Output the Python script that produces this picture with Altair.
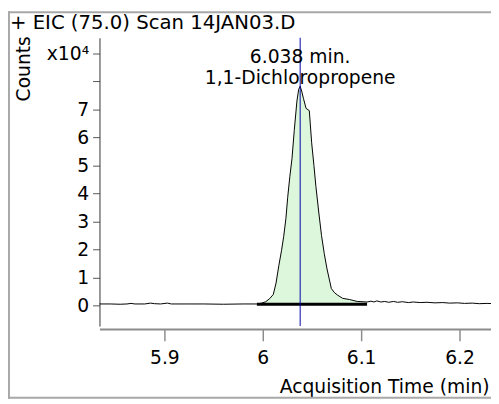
import altair as alt
import pandas as pd

# ---- data (counts in units of 10^4) ----
times = [5.834, 5.845, 5.855, 5.862, 5.866, 5.870, 5.880, 5.886, 5.890, 5.896, 5.903, 5.907,
         5.920, 5.940, 5.960, 5.980,
         5.994, 5.999, 6.003, 6.007, 6.0107, 6.0135, 6.0163, 6.019, 6.0213, 6.0235, 6.0253,
         6.0275, 6.0297, 6.032, 6.0347, 6.0365, 6.038, 6.0395, 6.0413, 6.044, 6.0473, 6.0497,
         6.052, 6.054, 6.057, 6.0597, 6.0625, 6.0653, 6.0697, 6.073, 6.0763, 6.0813, 6.088,
         6.096, 6.106,
         6.110, 6.113, 6.116, 6.120, 6.124, 6.128, 6.133, 6.137, 6.142, 6.148, 6.153, 6.160,
         6.167, 6.175, 6.183, 6.190, 6.198, 6.205, 6.213, 6.220, 6.228, 6.235]
counts = [0.05, 0.05, 0.04, 0.05, 0.07, 0.05, 0.05, 0.08, 0.06, 0.05, 0.08, 0.05,
          0.05, 0.05, 0.04, 0.05,
          0.05, 0.08, 0.13, 0.24, 0.39, 0.80, 1.42, 1.95, 2.47, 3.10, 3.85,
          4.60, 5.25, 6.25, 7.30, 7.72, 7.83, 7.66, 7.40, 7.04, 6.96, 5.81,
          5.00, 4.25, 3.30, 2.50, 1.85, 1.30, 0.60, 0.45, 0.36, 0.25, 0.21,
          0.14, 0.12,
          0.15, 0.12, 0.16, 0.12, 0.14, 0.11, 0.14, 0.11, 0.13, 0.10, 0.12, 0.10,
          0.11, 0.09, 0.10, 0.08, 0.09, 0.07, 0.08, 0.06, 0.07, 0.06]

base_start = 5.994
base_end = 6.106
base_level = 0.04
rt = 6.038
compound = "1,1-Dichloropropene"
title_text = "+ EIC (75.0) Scan 14JAN03.D"

y_ticks = [0, 1, 2, 3, 4, 5, 6, 7, 8, 9]
y_labels = ["0", "1", "2", "3", "4", "5", "6", "7", "", "x10⁴"]
x_ticks = [5.9, 6.0, 6.1, 6.2]
x_domain = [5.834, 6.232]
y_domain = [-0.738, 9.563]

FONT = "DejaVu Sans"
FS = 19

df = pd.DataFrame({"t": times, "c": counts})
peak = df[(df.t >= base_start) & (df.t <= base_end)]
base_df = pd.DataFrame({"t": [base_start, base_end], "c": [base_level, base_level]})
ann_df = pd.DataFrame({"t": [rt, rt], "c": [8.86, 8.14], "label": [f"{rt:.3f} min.", compound]})
one = pd.DataFrame({"a": [0]})

label_expr = "''"
for v, l in zip(y_ticks, y_labels):
    label_expr = f"(round(datum.value) == {v} ? '{l}' : {label_expr})"

xs = alt.Scale(domain=x_domain, nice=False, zero=False)
ys = alt.Scale(domain=y_domain, nice=False, zero=False)

x_axis = alt.Axis(values=x_ticks, format="~g", title="Acquisition Time (min)",
                  domainColor="#8c8c8c", domainWidth=2, tickColor="#8c8c8c", tickWidth=1.5,
                  tickSize=12, labelPadding=8, offset=3, labelFontSize=FS, labelFont=FONT,
                  labelColor="black", titleFontSize=FS, titleFont=FONT, titleFontWeight="normal",
                  titleColor="black", titleX=396, titleY=59, titleAlign="right",
                  titleBaseline="middle", grid=False, labelFlush=False, labelOverlap=False)
y_axis = alt.Axis(values=y_ticks, labelExpr=label_expr,
                  title="Counts", domainColor="#333333", tickColor="#555555", tickSize=7,
                  labelPadding=4, labelFontSize=FS, labelFont=FONT, labelColor="black",
                  titleFontSize=FS, titleFont=FONT, titleFontWeight="normal", titleColor="black",
                  titleX=-77, titleY=31, titleAlign="center", titleBaseline="middle",
                  titleAngle=270, grid=False, labelFlush=False, labelOverlap=False,
                  labelBound=False, labelSeparation=0)

X = alt.X("t:Q", scale=xs, axis=x_axis)
Y = alt.Y("c:Q", scale=ys, axis=y_axis)

area = alt.Chart(peak).mark_area(color="#ddf7dd", opacity=1).encode(
    x=X, y=Y, y2=alt.datum(base_level))
baseline = alt.Chart(base_df).mark_line(color="black", strokeWidth=3).encode(x=X, y=Y)
trace = alt.Chart(df).mark_line(color="black", strokeWidth=1).encode(x=X, y=Y)
rtline = alt.Chart(pd.DataFrame({"t": [rt]})).mark_rule(color="#0000a8", strokeWidth=1).encode(
    x=X, y=alt.value(0), y2=alt.value(293))
ann = alt.Chart(ann_df).mark_text(font=FONT, fontSize=FS, color="black", align="center",
                                  baseline="middle").encode(x=X, y=Y, text="label:N")
title = alt.Chart(one).mark_text(font=FONT, fontSize=20, color="black", align="left",
                                 baseline="middle", text=title_text).encode(
    x=alt.value(-91), y=alt.value(-15))
frame_top = alt.Chart(one).mark_rule(color="#a8a8a8", strokeWidth=2).encode(
    x=alt.value(-93), x2=alt.value(398), y=alt.value(-26))
frame_left = alt.Chart(one).mark_rule(color="#a8a8a8", strokeWidth=2).encode(
    x=alt.value(-92), y=alt.value(-27), y2=alt.value(367))
frame_bottom = alt.Chart(one).mark_rule(color="#a8a8a8", strokeWidth=2).encode(
    x=alt.value(-93), x2=alt.value(398), y=alt.value(366))

chart = alt.layer(area, baseline, trace, rtline, ann, title, frame_top, frame_left, frame_bottom).properties(
    width=398, height=293,
    autosize=alt.AutoSizeParams(type="none"),
    padding={"left": 93, "top": 27, "right": 0, "bottom": 76},
).configure_view(stroke=None).configure_axis(labelOverlap=False)

chart.save("out.html", embed_options={"renderer": "svg", "actions": False})
